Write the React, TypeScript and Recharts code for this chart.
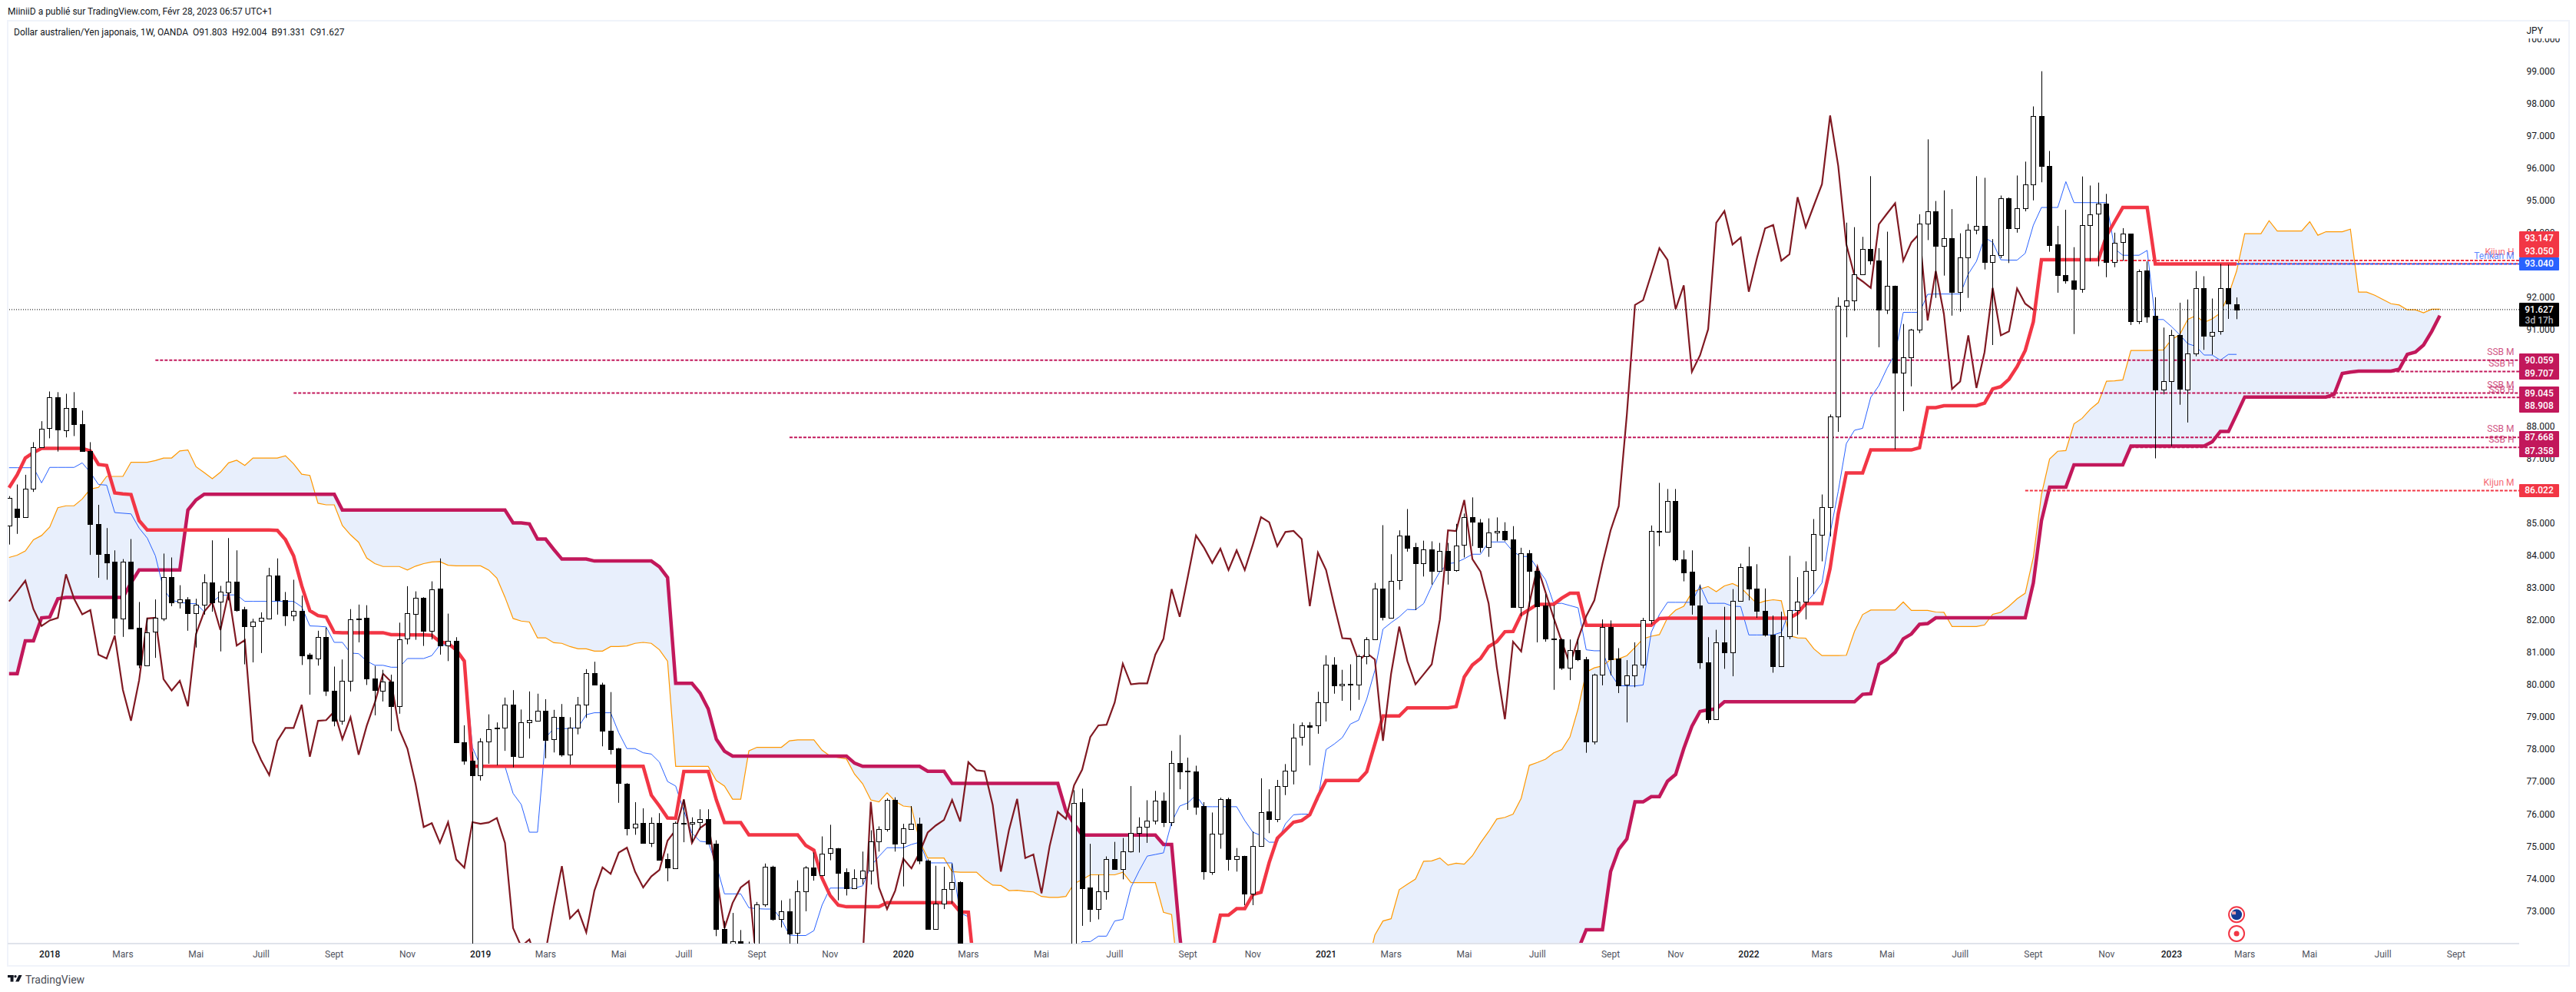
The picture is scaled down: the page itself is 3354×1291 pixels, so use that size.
import React from 'react';
import { ComposedChart, Area, Line, Bar, XAxis, YAxis, ReferenceLine, ReferenceDot } from 'recharts';

// Weekly AUD/JPY candles. Candles far below the visible window are estimates.
const opens = [
84.94,85.46,85.21,86.08,87.37,87.94,88.90,87.89,88.58,88.09,
87.25,84.99,84.06,83.81,82.07,83.83,81.76,80.61,81.63,82.07,
83.35,82.57,82.66,82.22,82.49,83.18,82.56,82.88,83.21,82.35,
81.82,81.97,82.07,83.40,82.64,82.16,82.30,80.93,80.82,81.49,
79.83,78.89,80.13,82.06,82.07,80.19,79.83,80.11,79.34,81.43,
82.22,82.71,81.68,82.98,81.21,81.36,78.23,77.66,77.21,78.25,
78.64,78.66,79.38,77.78,78.85,78.91,79.21,78.30,79.00,77.83,
78.66,79.38,80.36,80.02,78.59,78.03,76.95,75.58,75.72,75.09,
75.73,74.60,74.33,75.73,75.70,75.75,75.85,75.09,72.45,71.50,
72.07,71.80,71.00,73.21,74.38,72.76,73.00,72.32,73.60,74.34,
74.11,74.78,74.93,74.20,73.71,74.02,74.25,75.16,75.53,76.45,
75.09,75.55,75.71,74.57,72.45,73.23,73.69,73.90,71.20,70.00,
68.40,65.00,61.00,65.50,66.50,68.00,66.70,69.20,70.00,69.00,
70.00,71.50,76.37,73.72,73.05,73.60,74.60,74.30,74.85,75.41,
75.61,75.81,76.42,75.75,77.59,77.35,77.33,76.24,74.22,75.41,
76.47,74.62,74.71,73.54,75.02,76.08,75.85,76.88,77.35,78.38,
78.76,78.76,79.47,80.63,79.99,80.03,80.01,80.90,81.42,82.98,
82.09,83.23,84.62,84.26,83.76,84.21,83.54,84.16,83.56,84.33,
85.19,85.04,84.28,84.73,84.78,84.52,82.42,84.09,83.54,82.46,
81.44,81.42,80.54,81.09,80.80,78.25,80.33,81.80,80.83,80.02,
80.30,80.63,82.01,84.78,84.75,85.71,83.90,83.50,82.47,80.71,
78.94,81.33,81.02,82.61,83.67,82.98,82.30,81.56,80.58,81.51,
82.32,82.59,83.54,84.67,85.52,88.32,91.75,91.92,92.72,93.51,
93.16,91.63,92.37,89.68,90.15,91.01,94.29,94.67,93.61,93.85,
92.18,93.25,94.11,94.22,93.10,93.32,95.08,94.16,94.77,95.51,
97.63,96.08,93.64,92.70,92.53,92.28,94.25,94.58,94.90,93.10,
93.70,93.98,91.27,92.83,91.43,89.15,89.40,90.83,89.17,90.28,
92.30,90.83,90.94,92.28,91.803];

const closes = [
85.80,85.21,86.08,87.37,87.94,88.90,87.89,88.58,88.09,87.25,
84.99,84.06,83.80,82.07,83.83,81.75,80.61,81.63,82.07,83.35,
82.56,82.66,82.22,82.49,83.18,82.56,82.88,83.21,82.34,81.82,
81.97,82.07,83.40,82.63,82.16,82.30,80.92,80.82,81.49,79.82,
78.89,80.13,82.04,82.04,80.18,79.83,80.11,79.34,81.42,82.22,
82.71,81.68,82.97,81.21,81.36,78.23,77.66,77.21,78.25,78.64,
78.67,79.38,77.78,78.85,78.91,79.21,78.30,79.00,77.83,78.67,
79.38,80.36,80.01,78.59,78.01,76.95,75.58,75.70,75.09,75.72,
74.59,74.33,75.73,75.70,75.75,75.85,75.09,72.45,71.50,72.07,
71.60,71.00,73.21,74.38,72.76,73.00,72.32,73.60,74.34,74.11,
74.78,74.93,74.18,73.70,74.02,74.25,75.16,75.53,76.44,75.09,
75.55,75.71,74.57,72.45,73.23,73.69,73.90,71.20,70.00,68.40,
65.00,61.00,65.50,66.50,68.00,66.70,69.20,70.00,69.00,70.00,
71.50,76.35,73.70,73.05,73.60,74.60,74.30,74.85,75.41,75.61,
75.80,76.42,75.75,77.59,77.34,77.32,76.23,74.21,75.40,76.47,
74.62,74.71,73.54,75.02,76.07,75.85,76.88,77.35,78.38,78.74,
78.72,79.47,80.63,79.99,80.04,80.01,80.90,81.42,82.98,82.09,
83.23,84.62,84.25,83.76,84.20,83.54,84.16,83.56,84.33,85.19,
85.04,84.28,84.73,84.78,84.52,82.42,84.08,83.54,82.44,81.44,
81.42,80.53,81.09,80.81,78.25,80.33,81.80,80.81,80.00,80.30,
80.63,82.01,84.77,84.75,85.71,83.89,83.49,82.47,80.70,78.94,
81.33,81.02,82.61,83.66,82.97,82.30,81.56,80.58,81.51,82.32,
82.59,83.54,84.67,85.52,88.32,91.75,91.92,92.72,93.51,93.15,
91.63,92.37,89.68,90.15,91.01,94.29,94.66,93.61,93.85,92.18,
93.25,94.11,94.22,93.10,93.32,95.08,94.16,94.77,95.51,97.63,
96.08,93.64,92.69,92.53,92.28,94.25,94.58,94.90,93.10,93.70,
93.97,91.27,92.82,91.41,89.15,89.40,90.83,89.17,90.28,92.30,
90.82,90.94,92.28,91.80,91.627];

const highs = [
85.85,86.21,86.51,87.52,88.17,89.09,89.07,89.02,89.07,88.50,
87.52,85.58,84.86,84.17,83.90,84.52,82.57,82.08,82.65,84.07,
83.95,83.09,82.72,82.67,83.43,84.48,83.07,84.55,84.17,82.42,
82.05,82.25,83.63,83.92,82.88,83.26,82.77,80.99,81.68,81.78,
80.57,80.79,82.35,82.49,82.47,80.59,80.47,80.32,81.93,83.06,
82.90,82.72,83.21,83.92,82.21,81.48,78.75,77.93,78.35,79.09,
78.84,79.61,79.84,79.24,79.80,79.73,79.56,79.23,79.41,79.00,
79.63,80.49,80.72,80.07,79.78,78.05,76.96,76.37,76.18,75.90,
76.03,74.78,75.77,76.44,75.90,76.15,76.15,75.19,72.69,72.94,
72.41,72.05,73.28,74.47,74.40,73.33,73.38,73.95,74.39,74.81,
75.31,75.67,74.95,74.32,74.29,74.84,75.50,75.62,76.49,76.52,
75.70,76.25,75.89,74.60,74.40,74.37,74.47,73.92,71.50,71.00,
69.00,66.00,66.00,67.00,68.50,68.50,69.50,70.30,70.50,70.50,
71.80,76.74,76.79,75.08,74.12,74.69,75.14,75.26,76.87,75.90,
76.43,76.72,76.67,77.96,78.45,77.75,77.50,76.37,76.05,76.51,
76.51,74.95,74.71,75.46,77.11,76.77,77.06,77.55,78.80,78.84,
78.85,79.79,80.92,80.86,80.47,80.64,80.94,81.48,83.16,84.95,
84.05,84.79,85.45,84.40,84.47,84.45,84.40,84.40,84.99,85.31,
85.81,85.14,85.16,85.19,85.04,84.92,84.25,84.18,83.66,82.82,
82.47,81.44,81.41,81.43,80.87,80.35,82.03,82.00,81.14,80.77,
81.32,82.08,84.94,86.26,86.07,86.07,84.17,84.17,83.11,81.48,
81.71,82.42,82.97,83.76,84.28,83.74,82.99,82.15,82.27,84.00,
83.34,83.83,85.14,85.90,88.38,92.01,94.32,94.18,93.88,95.76,
93.53,94.04,92.37,91.18,91.03,94.58,96.90,94.99,95.32,94.74,
93.99,94.28,95.76,95.71,93.81,95.16,95.10,95.78,96.21,97.92,
99.01,96.54,94.22,94.72,93.56,95.75,95.47,95.56,95.21,94.01,
94.15,93.98,92.87,93.12,92.01,91.07,91.00,91.84,91.94,92.82,
92.66,91.97,93.04,93.02,92.004];

const lows = [
84.35,84.68,85.21,85.98,87.37,87.64,87.23,87.67,87.71,87.25,
84.03,83.32,83.26,81.57,81.49,81.75,80.52,80.61,80.84,81.98,
82.44,82.37,81.68,81.16,82.18,82.27,81.04,82.62,82.27,80.64,
80.70,80.99,82.03,82.18,81.83,81.98,80.62,79.70,80.60,79.66,
78.72,78.77,79.80,81.32,80.00,79.06,79.49,78.57,79.11,81.26,
81.40,81.21,81.41,80.94,80.74,78.20,77.53,71.00,77.04,77.56,
77.51,77.96,77.45,77.78,78.34,78.87,77.73,77.91,77.78,77.53,
78.47,78.98,80.01,78.10,77.85,76.35,75.34,75.36,75.09,74.98,
74.59,73.92,74.33,75.13,75.13,75.51,75.06,72.22,71.20,71.00,
71.20,70.80,70.80,73.13,72.70,72.49,71.90,71.80,72.99,73.94,
74.11,74.57,73.33,73.48,73.70,73.82,73.82,74.84,75.46,74.84,
73.76,75.53,74.45,72.45,72.42,73.06,73.23,70.80,69.00,67.50,
64.50,59.90,60.00,64.50,66.00,66.50,66.50,68.50,68.80,68.50,
69.80,71.30,72.54,72.66,72.74,73.35,74.30,73.98,74.81,74.81,
75.11,75.68,75.60,75.63,76.77,76.13,75.98,73.97,74.12,74.93,
74.25,74.22,73.18,73.18,75.01,75.41,75.75,76.59,76.92,78.12,
77.51,78.49,78.87,79.73,79.51,79.21,79.54,80.64,81.42,82.00,
82.09,82.95,84.13,82.32,83.36,83.11,83.53,83.11,83.51,83.95,
84.30,84.10,83.97,84.45,84.45,82.42,82.13,82.42,81.32,81.34,
79.85,80.47,80.15,80.74,77.90,78.16,79.99,80.30,79.75,78.84,
79.93,80.52,81.88,84.30,84.75,83.83,83.21,82.18,80.50,78.81,
78.94,80.50,80.27,82.58,82.62,82.08,81.50,80.38,80.56,81.42,
81.56,82.03,82.82,83.83,84.60,87.84,90.77,91.59,92.72,93.02,
90.46,91.49,87.30,88.48,89.25,90.90,93.78,91.99,92.68,91.44,
91.56,91.99,93.96,92.87,90.53,93.22,93.07,94.01,94.67,95.01,
95.57,93.42,92.15,92.43,90.87,92.15,93.12,92.97,92.63,92.94,
93.14,91.15,91.18,91.22,87.02,89.00,87.40,88.68,88.13,90.18,
90.38,90.23,90.85,91.34,91.331];

const tenkan = [
86.73,86.73,86.73,86.73,86.26,86.74,86.74,86.74,86.74,86.88,
86.58,86.21,86.19,85.34,85.32,85.30,84.86,84.55,84.00,82.97,
82.62,82.57,82.52,82.52,82.27,82.57,82.77,82.79,82.79,82.59,
82.59,82.59,82.59,82.59,82.59,82.59,82.42,81.83,81.82,81.80,
81.32,81.32,80.99,80.97,80.74,80.61,80.61,80.55,80.55,80.82,
80.82,80.82,80.91,81.24,81.24,81.04,80.79,78.07,77.48,77.48,
77.48,77.48,76.64,76.30,75.44,75.44,78.37,78.65,78.65,78.65,
78.69,79.08,79.14,79.14,79.14,78.52,78.03,78.03,77.90,77.86,
77.61,77.01,76.87,76.10,75.41,75.16,75.13,74.42,73.53,73.53,
73.53,73.10,73.07,73.06,73.06,72.74,72.25,72.24,72.24,72.39,
73.18,73.71,73.71,73.71,73.71,73.78,74.39,74.69,74.96,74.96,
74.96,75.06,75.13,74.49,74.49,74.49,74.49,72.94,72.82,70.50,
69.50,68.00,66.50,66.00,65.50,65.50,66.00,67.00,68.00,69.50,
70.50,71.50,72.05,72.05,72.22,72.22,72.69,72.74,73.73,74.24,
74.70,74.75,74.80,75.75,76.25,76.35,76.59,76.23,76.23,76.23,
76.23,76.23,75.80,75.44,75.34,75.13,75.13,75.70,75.98,76.00,
76.00,76.44,78.00,78.17,78.37,78.79,78.91,79.56,80.45,81.73,
81.93,82.11,82.34,82.33,82.52,83.07,83.51,83.76,83.79,83.91,
84.05,84.05,84.43,84.43,84.43,84.13,83.98,83.98,83.61,83.26,
82.52,82.53,82.46,82.39,81.09,81.06,81.06,80.35,79.98,79.97,
79.97,80.00,81.63,82.18,82.56,82.56,82.56,82.56,83.08,82.53,
82.53,82.53,82.44,82.43,81.55,81.55,81.55,81.55,81.63,82.30,
82.32,82.54,82.82,83.16,84.70,86.00,87.48,87.89,87.95,88.91,
89.27,89.81,90.26,91.54,91.54,91.54,92.10,92.11,92.11,92.11,
92.11,92.73,93.12,93.86,93.71,93.17,93.16,93.16,93.37,94.24,
94.79,94.79,94.79,95.59,94.94,94.94,94.94,94.94,94.94,93.51,
93.31,93.31,93.31,93.46,91.32,91.32,91.10,90.85,90.57,90.49,
90.22,90.22,90.06,90.24,90.24];

const kijun = [
86.11,86.51,87.03,87.20,87.33,87.33,87.33,87.33,87.33,87.33,
87.25,86.83,86.80,85.95,85.92,85.90,85.09,84.80,84.80,84.80,
84.80,84.80,84.80,84.80,84.80,84.80,84.80,84.80,84.80,84.80,
84.80,84.80,84.80,84.79,84.50,84.00,83.07,82.30,82.15,82.11,
81.63,81.62,81.62,81.62,81.62,81.62,81.62,81.56,81.56,81.55,
81.55,81.55,81.54,81.34,81.29,81.09,80.74,77.48,77.48,77.48,
77.48,77.48,77.48,77.48,77.48,77.48,77.48,77.48,77.48,77.48,
77.48,77.48,77.48,77.48,77.48,77.48,77.48,77.48,77.48,76.59,
76.25,75.88,75.87,77.32,77.32,77.32,77.32,76.44,75.74,75.74,
75.74,75.36,75.36,75.36,75.36,75.36,75.36,75.36,75.03,74.88,
74.02,73.48,73.18,73.13,73.13,73.13,73.13,73.13,73.26,73.26,
73.26,73.26,73.26,73.26,73.26,73.26,73.26,72.97,72.96,70.50,
69.00,68.00,67.00,66.50,66.50,66.50,66.50,66.50,66.50,66.50,
66.50,66.50,67.00,67.00,67.00,67.00,68.00,68.00,69.00,69.00,
69.50,70.00,70.00,70.00,70.50,70.50,71.00,71.00,71.75,72.87,
72.87,73.07,73.07,73.51,73.58,74.50,75.25,75.50,75.75,75.80,
75.98,76.54,77.04,77.04,77.04,77.04,77.04,77.31,78.17,79.04,
79.04,79.04,79.29,79.29,79.29,79.29,79.29,79.29,79.33,80.25,
80.62,80.82,81.19,81.34,81.65,81.66,82.18,82.34,82.50,82.50,
82.50,82.69,82.84,82.84,81.85,81.85,81.85,81.85,81.85,81.85,
81.85,81.85,81.85,82.06,82.07,82.07,82.07,82.07,82.07,82.07,
82.07,82.07,82.07,82.07,82.07,82.07,82.07,82.07,82.07,82.07,
82.22,82.52,82.52,82.52,83.61,85.30,86.57,86.57,86.57,87.28,
87.28,87.28,87.28,87.28,87.28,87.35,88.59,88.59,88.65,88.65,
88.65,88.65,88.65,88.73,89.17,89.24,89.47,89.86,90.36,91.25,
93.17,93.17,93.17,93.17,93.17,93.17,93.17,93.17,93.91,94.35,
94.79,94.79,94.79,94.79,93.04,93.04,93.04,93.04,93.04,93.04,
93.04,93.04,93.04,93.04,93.04];

const senkouA = [
83.95,84.02,84.15,84.50,84.63,84.89,85.49,85.55,85.55,85.76,
86.07,86.12,86.46,86.46,86.46,86.90,86.90,86.90,86.95,87.03,
87.03,87.25,87.28,86.76,86.58,86.39,86.59,86.88,86.96,86.80,
87.03,87.03,87.03,87.03,87.10,86.85,86.53,86.49,85.63,85.58,
85.58,84.94,84.65,84.42,83.93,83.76,83.67,83.67,83.67,83.56,
83.68,83.76,83.81,83.82,83.71,83.69,83.69,83.69,83.69,83.56,
83.31,82.72,82.06,81.98,81.95,81.46,81.46,81.31,81.29,81.19,
81.12,81.12,81.05,81.05,81.19,81.19,81.21,81.29,81.32,81.29,
81.09,80.74,77.48,77.48,77.48,77.48,77.48,77.04,76.87,76.46,
76.46,77.96,78.07,78.07,78.07,78.07,78.27,78.30,78.30,78.30,
77.98,77.80,77.75,77.71,77.24,76.94,76.44,76.38,76.66,76.40,
76.25,76.22,75.16,74.64,74.64,74.64,74.22,74.20,74.20,74.20,
73.97,73.80,73.79,73.63,73.64,73.61,73.59,73.45,73.42,73.42,
73.45,73.85,73.97,74.12,74.12,74.12,74.12,74.20,73.88,73.88,
73.88,73.88,72.96,72.89,70.50,70.00,69.50,69.00,68.50,68.00,
67.50,67.00,66.50,66.20,66.00,66.00,66.00,66.20,66.50,67.00,
67.50,68.00,68.50,69.00,69.50,70.00,70.50,71.20,72.25,72.69,
72.76,73.66,73.83,73.99,74.54,74.55,74.64,74.42,74.48,74.45,
74.71,75.11,75.46,75.85,75.90,76.00,76.49,77.51,77.60,77.70,
77.90,78.00,78.39,79.26,80.40,80.53,80.59,80.79,80.81,80.91,
81.16,81.43,81.51,81.56,82.08,82.32,82.44,82.87,82.97,83.05,
82.89,83.07,83.14,83.02,82.77,82.52,82.60,82.64,82.61,81.53,
81.46,81.45,81.12,80.91,80.91,80.91,80.92,81.66,82.18,82.32,
82.32,82.32,82.32,82.57,82.31,82.31,82.31,82.26,82.25,81.81,
81.81,81.81,81.81,81.86,82.19,82.25,82.44,82.67,82.84,83.95,
85.90,87.00,87.24,87.26,88.09,88.26,88.54,88.75,89.41,89.42,
89.45,90.36,90.36,90.36,90.37,90.38,90.70,90.85,91.32,91.44,
91.23,91.34,91.52,92.08,92.82,93.98,93.98,93.98,94.38,94.06,
94.06,94.06,94.06,94.35,93.93,94.04,94.04,94.04,94.12,92.17,
92.17,92.07,91.94,91.81,91.77,91.62,91.62,91.53,91.64,91.64];

const senkouB = [
80.35,80.35,81.37,81.37,82.08,82.10,82.67,82.71,82.71,82.71,
82.71,82.71,82.71,82.71,82.71,83.16,83.56,83.56,83.56,83.56,
83.56,83.56,85.42,85.73,85.91,85.91,85.91,85.91,85.91,85.91,
85.91,85.91,85.91,85.91,85.91,85.91,85.91,85.91,85.91,85.91,
85.91,85.42,85.42,85.42,85.42,85.42,85.42,85.42,85.42,85.42,
85.42,85.42,85.42,85.42,85.42,85.42,85.42,85.42,85.42,85.42,
85.42,85.42,85.02,85.02,84.99,84.52,84.52,84.20,83.90,83.90,
83.90,83.90,83.84,83.84,83.84,83.84,83.84,83.84,83.84,83.84,
83.66,83.33,80.05,80.05,80.05,79.75,79.26,78.32,77.95,77.80,
77.80,77.80,77.80,77.80,77.80,77.80,77.80,77.80,77.80,77.80,
77.80,77.80,77.80,77.80,77.58,77.48,77.48,77.48,77.48,77.48,
77.48,77.48,77.48,77.33,77.33,77.33,76.95,76.95,76.95,76.95,
76.95,76.95,76.95,76.95,76.95,76.95,76.95,76.95,76.95,76.95,
76.10,75.70,75.35,75.35,75.35,75.35,75.35,75.35,75.35,75.35,
75.35,75.35,75.06,75.06,72.25,70.00,69.00,69.00,69.00,69.00,
69.00,69.00,69.00,69.00,69.00,69.00,69.00,69.00,69.00,69.00,
69.00,69.00,69.00,69.00,69.00,69.00,69.50,69.50,69.50,69.50,
69.50,69.50,69.50,69.50,69.50,69.50,69.50,69.50,69.50,69.50,
69.50,70.50,70.50,70.50,70.50,70.50,70.50,70.50,70.50,70.50,
70.50,70.50,70.50,71.80,72.42,72.42,72.42,74.22,74.91,75.23,
76.38,76.38,76.54,76.54,77.02,77.23,78.03,78.72,79.18,79.23,
79.26,79.48,79.48,79.48,79.48,79.48,79.48,79.48,79.48,79.48,
79.48,79.48,79.48,79.48,79.48,79.48,79.48,79.48,79.71,79.73,
80.64,80.79,81.01,81.43,81.58,81.88,81.90,82.08,82.08,82.08,
82.08,82.08,82.08,82.08,82.08,82.08,82.08,82.08,82.08,83.16,
85.09,86.13,86.13,86.13,86.82,86.82,86.82,86.82,86.82,86.82,
86.82,87.40,87.40,87.40,87.40,87.40,87.40,87.40,87.40,87.40,
87.40,87.53,87.85,87.85,88.38,88.92,88.92,88.92,88.92,88.92,
88.92,88.92,88.92,88.92,88.92,88.92,89.00,89.65,89.69,89.72,
89.72,89.72,89.72,89.72,89.78,90.24,90.31,90.53,90.95,91.44];

const chikou = [
82.59,82.90,83.23,82.35,81.83,82.00,82.08,83.43,82.67,82.19,
82.32,80.94,80.82,81.53,79.85,78.89,80.15,82.06,82.08,80.18,
79.83,80.13,79.34,81.58,82.27,82.57,81.70,82.87,81.22,81.39,
78.25,77.68,77.21,78.27,78.67,78.67,79.39,77.78,78.89,78.91,
79.18,78.32,79.00,77.84,78.74,79.46,80.35,80.10,78.62,78.03,
76.94,75.60,75.72,75.11,75.75,74.60,74.34,75.75,75.70,75.74,
75.88,75.11,72.47,71.90,72.12,71.40,71.75,73.13,74.39,72.77,
73.03,72.34,73.63,74.35,74.15,74.81,74.96,74.22,73.73,74.07,
74.27,75.18,75.51,76.46,75.11,75.57,75.75,74.12,72.47,73.25,
73.73,73.92,71.20,70.00,68.40,65.00,61.00,65.50,66.50,68.00,
66.70,69.20,70.00,69.00,70.00,71.50,76.38,73.73,73.06,73.63,
74.62,74.32,74.81,75.43,75.65,75.82,76.44,75.77,77.61,77.36,
77.33,76.28,74.22,75.51,76.47,74.64,74.75,73.55,75.01,76.07,
75.85,76.89,77.38,78.39,78.75,78.77,79.46,80.66,80.02,80.05,
80.05,80.94,81.43,82.97,82.11,83.36,84.63,84.25,83.78,84.22,
83.56,84.17,83.56,84.35,85.20,85.04,84.30,84.74,84.77,84.52,
82.44,84.10,83.56,82.47,81.45,81.43,80.74,80.99,80.79,78.27,
80.35,81.81,80.74,80.02,80.33,80.64,82.03,84.79,84.77,85.73,
83.90,83.51,82.52,80.55,78.94,81.34,81.04,82.52,83.66,82.87,
82.08,81.34,80.64,81.43,82.13,82.62,83.76,84.79,85.54,88.38,
91.77,91.92,92.72,93.53,93.17,91.64,92.38,89.70,90.21,91.02,
94.32,94.68,93.64,93.86,92.18,93.22,94.14,94.25,93.14,93.34,
95.11,94.18,94.85,95.51,97.64,96.08,93.64,92.68,92.50,92.30,
94.27,94.60,94.92,93.14,93.71,93.98,91.29,92.82,91.49,89.17,
89.40,90.83,89.20,90.31,92.30,90.83,90.95,92.28,91.81,91.62];

const xTicks = [5,14,23,31,40,49,58,66,75,83,92,101,110,118,127,136,145,153,162,170,179,188,197,205,214,223,231,240,249,258,266,275,283,292,301];
const xTickLabels = ['2018','Mars','Mai','Juill','Sept','Nov','2019','Mars','Mai','Juill','Sept','Nov','2020','Mars','Mai','Juill','Sept','Nov','2021','Mars','Mai','Juill','Sept','Nov','2022','Mars','Mai','Juill','Sept','Nov','2023','Mars','Mai','Juill','Sept'];
const yTicks = [73,74,75,76,77,78,79,80,81,82,83,84,85,86,87,88,89,90,91,92,93,94,95,96,97,98,99,100];

const lastPrice = 91.627;
const ssbLevels = [90.059, 89.707, 89.045, 88.908, 87.668, 87.358];
const ssbStarts = [18, 288, 35, 275, 96, 261];
const kijunLevels = [93.147, 93.05, 86.022];
const kijunStarts = [250, 264, 248];
const tenkanLevels = [93.04];
const tenkanStarts = [274];
const eventPrices = [72.89, 72.30];

const X_MIN = -0.17;
const X_MAX = 308.76;
const Y_MIN = 71.99;
const Y_MAX = 100.55;

const rows = senkouA.map((a, i) => ({
  i,
  cloud: [a, senkouB[i]],
  ssa: a,
  ssb: senkouB[i],
  tenkan: i < tenkan.length ? tenkan[i] : null,
  kijun: i < kijun.length ? kijun[i] : null,
  chikou: i < chikou.length ? chikou[i] : null,
  range: i < highs.length ? [lows[i], highs[i]] : null,
  o: i < opens.length ? opens[i] : null,
  c: i < closes.length ? closes[i] : null,
  h: i < highs.length ? highs[i] : null,
  l: i < lows.length ? lows[i] : null,
}));

const Candle = (p: any) => {
  const { x, y, width, height, payload } = p;
  if (payload == null || payload.o == null || !isFinite(y) || !isFinite(height)) return null;
  const k = height / (payload.h - payload.l);
  const cx = Math.floor(x + width / 2) + 0.5;
  const top = y + (payload.h - Math.max(payload.o, payload.c)) * k;
  const bodyH = Math.max(Math.abs(payload.o - payload.c) * k, 1);
  const rising = payload.c >= payload.o;
  const t = Math.round(top) + 0.5;
  const hh = Math.max(Math.round(bodyH), 1);
  return (
    <g>
      <line x1={cx} x2={cx} y1={y} y2={y + height} stroke="#000" strokeWidth={1} />
      <rect x={cx - 3} y={t} width={6} height={hh} fill={rising ? '#fff' : '#000'} stroke="#000" strokeWidth={1} />
    </g>
  );
};

const XTick = (p: any) => {
  const idx = xTicks.indexOf(p.payload.value);
  const label = xTickLabels[idx];
  const year = /^\d/.test(label);
  return (
    <text x={p.x} y={1246} textAnchor="middle" fontFamily="Roboto" fontSize={12} fill={year ? '#131722' : '#50535e'} fontWeight={year ? 500 : 400}>
      {label}
    </text>
  );
};

const YTick = (p: any) => (
  <text x={3289.5} y={p.y + 4} textAnchor="start" fontFamily="Roboto" fontSize={12} fill="#131722">
    {Number(p.payload.value).toFixed(3)}
  </text>
);

const FlagShape = (p: any) => (
  <g>
    <circle cx={p.cx} cy={p.cy} r={10} fill="#fff" stroke="#f23645" strokeWidth={2} />
    <circle cx={p.cx} cy={p.cy} r={7} fill="#143c96" />
    <rect x={p.cx - 6} y={p.cy - 4} width={5} height={4} fill="#e8a0a8" />
  </g>
);
const DotShape = (p: any) => (
  <g>
    <circle cx={p.cx} cy={p.cy} r={10} fill="#fff" stroke="#f23645" strokeWidth={2} />
    <circle cx={p.cx} cy={p.cy} r={3.5} fill="#f23645" />
  </g>
);

const textBase: React.CSSProperties = { position: 'absolute', fontFamily: 'Roboto', whiteSpace: 'pre', fontSize: 12, lineHeight: '14px' };

const Box = ({ top, height, bg }: any) => (
  <div style={{ position: 'absolute', left: 3280, width: 52, top, height, background: bg, borderRadius: 1 }} />
);
const BoxText = ({ y, children, color = '#fff' }: any) => (
  <div style={{ ...textBase, left: 3280, width: 52, textAlign: 'center', top: y - 7, color, fontWeight: 500 }}>{children}</div>
);
const LineTag = ({ y, color, children }: any) => (
  <div style={{ ...textBase, right: 3354 - 3273.5, top: y - 7, color, opacity: 0.75 }}>{children}</div>
);

export default function App() {
  return (
    <div style={{ position: 'fixed', left: 0, top: 0, width: 3354, height: 1291, background: '#fff', overflow: 'hidden' }}>
      <div style={{ position: 'absolute', left: 9, top: 26, width: 3333, height: 1228, border: '2px solid #f0f3fa' }} />
      <div style={{ position: 'absolute', left: 0, top: 0 }}>
        <ComposedChart width={3354} height={1291} data={rows} margin={{ top: 28, left: 10, right: 11, bottom: 36 }}>
          <XAxis
            dataKey="i"
            type="number"
            domain={[X_MIN, X_MAX]}
            allowDataOverflow
            ticks={xTicks}
            interval={0}
            tick={XTick}
            tickLine={false}
            height={27}
            stroke="#e0e3eb"
            axisLine={{ stroke: '#e0e3eb', strokeWidth: 2 }}
          />
          <YAxis
            orientation="right"
            type="number"
            domain={[Y_MIN, Y_MAX]}
            allowDataOverflow
            ticks={yTicks}
            interval={0}
            tick={YTick}
            tickLine={false}
            axisLine={false}
            width={63}
          />
          <Area dataKey="cloud" type="linear" stroke="none" fill="#1e66e6" fillOpacity={0.1} isAnimationActive={false} dot={false} activeDot={false} />
          <Line dataKey="ssa" type="linear" stroke="#ff9800" strokeWidth={1.2} dot={false} activeDot={false} isAnimationActive={false} />
          <Line dataKey="ssb" type="linear" stroke="#c2185b" strokeWidth={4.5} dot={false} activeDot={false} isAnimationActive={false} />
          <Line dataKey="tenkan" type="linear" stroke="#2962ff" strokeWidth={1} dot={false} activeDot={false} isAnimationActive={false} />
          <Line dataKey="kijun" type="linear" stroke="#f23645" strokeWidth={4.5} dot={false} activeDot={false} isAnimationActive={false} />
          <Line dataKey="chikou" type="linear" stroke="#801922" strokeWidth={2.2} dot={false} activeDot={false} isAnimationActive={false} />
          {ssbLevels.map((v, k) => (
            <ReferenceLine key={'s' + k} segment={[{ x: ssbStarts[k], y: v }, { x: X_MAX, y: v }]} stroke="#c2185b" strokeWidth={2} strokeDasharray="4 2" />
          ))}
          {kijunLevels.map((v, k) => (
            <ReferenceLine key={'k' + k} segment={[{ x: kijunStarts[k], y: v }, { x: X_MAX, y: v }]} stroke="#f23645" strokeWidth={2} strokeDasharray="4 2" />
          ))}
          {tenkanLevels.map((v, k) => (
            <ReferenceLine key={'t' + k} segment={[{ x: tenkanStarts[k], y: v }, { x: X_MAX, y: v }]} stroke="#2962ff" strokeWidth={2} strokeDasharray="4 2" />
          ))}
          <ReferenceLine y={lastPrice} stroke="#000" strokeWidth={1} strokeDasharray="1 2" />
          <Bar dataKey="range" barSize={7} shape={Candle} isAnimationActive={false} zIndex={500} />
          <ReferenceDot x={274} y={eventPrices[0]} shape={FlagShape} />
          <ReferenceDot x={274} y={eventPrices[1]} shape={DotShape} />
        </ComposedChart>
      </div>

      {/* masks the clipped top price label */}
      <div style={{ position: 'absolute', left: 3283, top: 28, width: 58, height: 22, background: '#fff' }} />

      <div style={{ ...textBase, left: 10, top: 8, color: '#131722' }}>MiiniiD a publié sur TradingView.com, Févr 28, 2023 06:57 UTC+1</div>
      <div style={{ ...textBase, left: 18, top: 35, color: '#131722' }}>Dollar australien/Yen japonais, 1W, OANDA  O91.803  H92.004  B91.331  C91.627</div>
      <div style={{ ...textBase, left: 3289.5, top: 33, color: '#131722' }}>JPY</div>

      <LineTag y={328} color="#f23645">Kijun H</LineTag>
      <LineTag y={333} color="#2962ff">Tenkan M</LineTag>
      <LineTag y={458} color="#c2185b">SSB M</LineTag>
      <LineTag y={473} color="#c2185b">SSB H</LineTag>
      <LineTag y={501} color="#c2185b">SSB M</LineTag>
      <LineTag y={507} color="#c2185b">SSB H</LineTag>
      <LineTag y={558} color="#c2185b">SSB M</LineTag>
      <LineTag y={572} color="#c2185b">SSB H</LineTag>
      <LineTag y={628} color="#f23645">Kijun M</LineTag>

      <Box top={301} height={34} bg="#f23645" />
      <Box top={335} height={17} bg="#2962ff" />
      <Box top={394} height={31} bg="#000" />
      <Box top={460} height={34} bg="#c2185b" />
      <Box top={503} height={34} bg="#c2185b" />
      <Box top={561} height={34} bg="#c2185b" />
      <Box top={630} height={17} bg="#f23645" />
      <BoxText y={310}>93.147</BoxText>
      <BoxText y={327}>93.050</BoxText>
      <BoxText y={343}>93.040</BoxText>
      <BoxText y={403}>91.627</BoxText>
      <BoxText y={416.5} color="#b2b5be">3d 17h</BoxText>
      <BoxText y={469}>90.059</BoxText>
      <BoxText y={486}>89.707</BoxText>
      <BoxText y={512}>89.045</BoxText>
      <BoxText y={528}>88.908</BoxText>
      <BoxText y={569}>87.668</BoxText>
      <BoxText y={587}>87.358</BoxText>
      <BoxText y={638}>86.022</BoxText>

      <svg style={{ position: 'absolute', left: 10, top: 1269 }} width={19} height={9} viewBox="0 0 19 9">
        <rect x={0} y={0} width={7.5} height={3.2} fill="#131722" />
        <rect x={3.6} y={0} width={3.9} height={8.6} fill="#131722" />
        <circle cx={10} cy={1.7} r={1.7} fill="#131722" />
        <polygon points="14.4,0 18.6,0 14.6,8.6 10.2,8.6" fill="#131722" />
      </svg>
      <div style={{ ...textBase, left: 33, top: 1267, fontSize: 14, lineHeight: '16px', color: '#4a4e57' }}>TradingView</div>
    </div>
  );
}
